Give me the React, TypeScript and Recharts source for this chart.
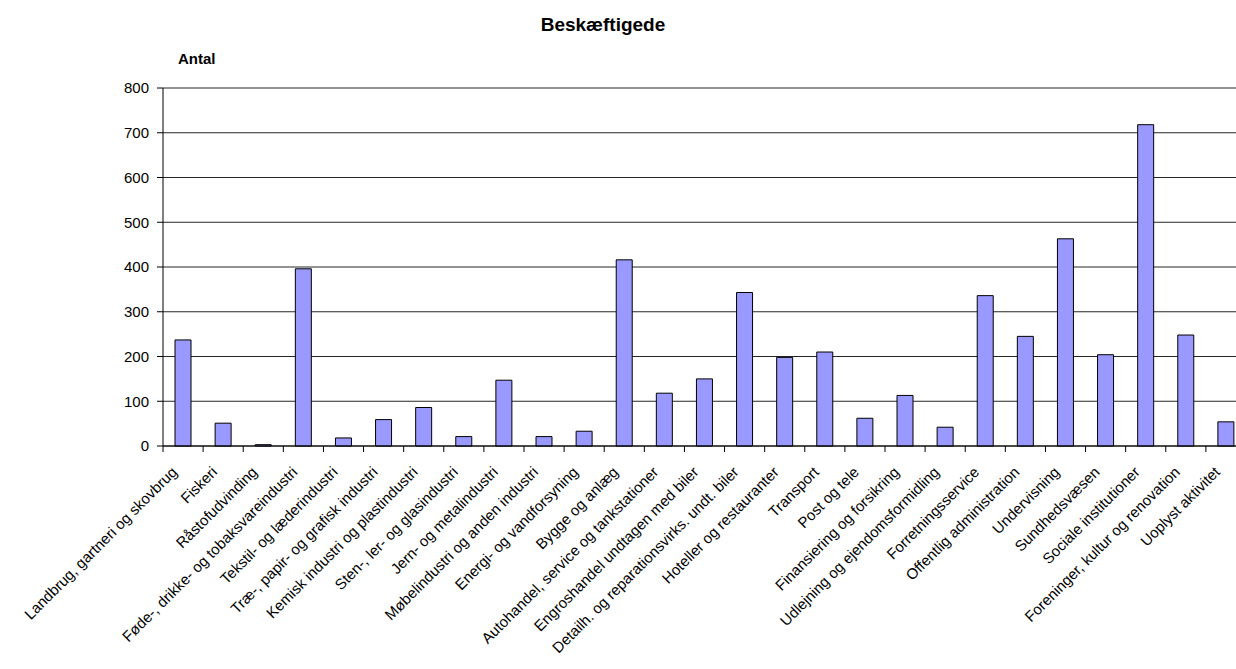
import React from 'react'
import { BarChart, Bar, XAxis, YAxis, CartesianGrid } from 'recharts'

const categories = [
  'Landbrug, gartneri og skovbrug',
  'Fiskeri',
  'Råstofudvinding',
  'Føde-, drikke- og tobaksvareindustri',
  'Tekstil- og læderindustri',
  'Træ-, papir- og grafisk industri',
  'Kemisk industri og plastindustri',
  'Sten-, ler- og glasindustri',
  'Jern- og metalindustri',
  'Møbelindustri og anden industri',
  'Energi- og vandforsyning',
  'Bygge og anlæg',
  'Autohandel, service og tankstationer',
  'Engroshandel undtagen med biler',
  'Detailh. og reparationsvirks. undt. biler',
  'Hoteller og restauranter',
  'Transport',
  'Post og tele',
  'Finansiering og forsikring',
  'Udlejning og ejendomsformidling',
  'Forretningsservice',
  'Offentlig administration',
  'Undervisning',
  'Sundhedsvæsen',
  'Sociale institutioner',
  'Foreninger, kultur og renovation',
  'Uoplyst aktivitet',
]

const antal = [237, 51, 3, 396, 18, 59, 86, 21, 147, 21, 33, 416, 118, 150, 343, 198, 210, 62, 113, 42, 336, 245, 463, 204, 718, 248, 54]

const yTicks = [0, 100, 200, 300, 400, 500, 600, 700, 800]

const data = categories.map((name, i) => ({ name, value: antal[i] }))

const FONT = '"Liberation Sans", Arial, sans-serif'
const W = 1250
const H = 669
const LEFT = 163
const RIGHT_MARGIN = 4
const STEP = (W - RIGHT_MARGIN - LEFT) / categories.length

function CategoryTick(props: any) {
  const { x, y, payload } = props
  const bx = x - STEP / 2
  const tx = x - 5
  const ty = y + 27
  return (
    <g>
      <line x1={bx} y1={y} x2={bx} y2={y + 6} stroke="#000" />
      <text
        x={tx}
        y={ty}
        textAnchor="end"
        fontSize={15}
        fontFamily={FONT}
        fill="#000"
        transform={`rotate(-45, ${tx}, ${ty})`}
      >
        {payload.value}
      </text>
    </g>
  )
}

export default function App() {
  return (
    <div style={{ position: 'absolute', left: 0, top: 0, width: 1236, height: H, overflow: 'hidden', background: '#fff' }}>
      <div
        style={{
          position: 'absolute', left: 0, width: 1206, top: 15, textAlign: 'center',
          fontFamily: FONT, fontWeight: 'bold', fontSize: 19, lineHeight: 1,
        }}
      >
        Beskæftigede
      </div>
      <div
        style={{
          position: 'absolute', left: 178, top: 51, fontFamily: FONT,
          fontWeight: 'bold', fontSize: 15, lineHeight: 1,
        }}
      >
        Antal
      </div>
      <BarChart
        width={W}
        height={H}
        data={data}
        margin={{ top: 88, right: RIGHT_MARGIN, bottom: 0, left: LEFT - 50 }}
      >
        <CartesianGrid horizontal vertical={false} stroke="#000" strokeOpacity={0.85} />
        <XAxis
          dataKey="name"
          height={223}
          interval={0}
          tickLine={false}
          tickSize={0}
          tickMargin={0}
          axisLine={{ stroke: '#000' }}
          tick={<CategoryTick />}
        />
        <YAxis
          width={50}
          domain={[0, 800]}
          ticks={yTicks}
          interval={0}
          tickSize={6}
          tickMargin={8}
          axisLine={{ stroke: '#000' }}
          tickLine={{ stroke: '#000' }}
          tick={{ fill: '#000', fontSize: 15, fontFamily: FONT }}
        />
        <Bar dataKey="value" fill="#9999FF" stroke="#000" strokeWidth={1} barSize={16} isAnimationActive={false} />
      </BarChart>
    </div>
  )
}
